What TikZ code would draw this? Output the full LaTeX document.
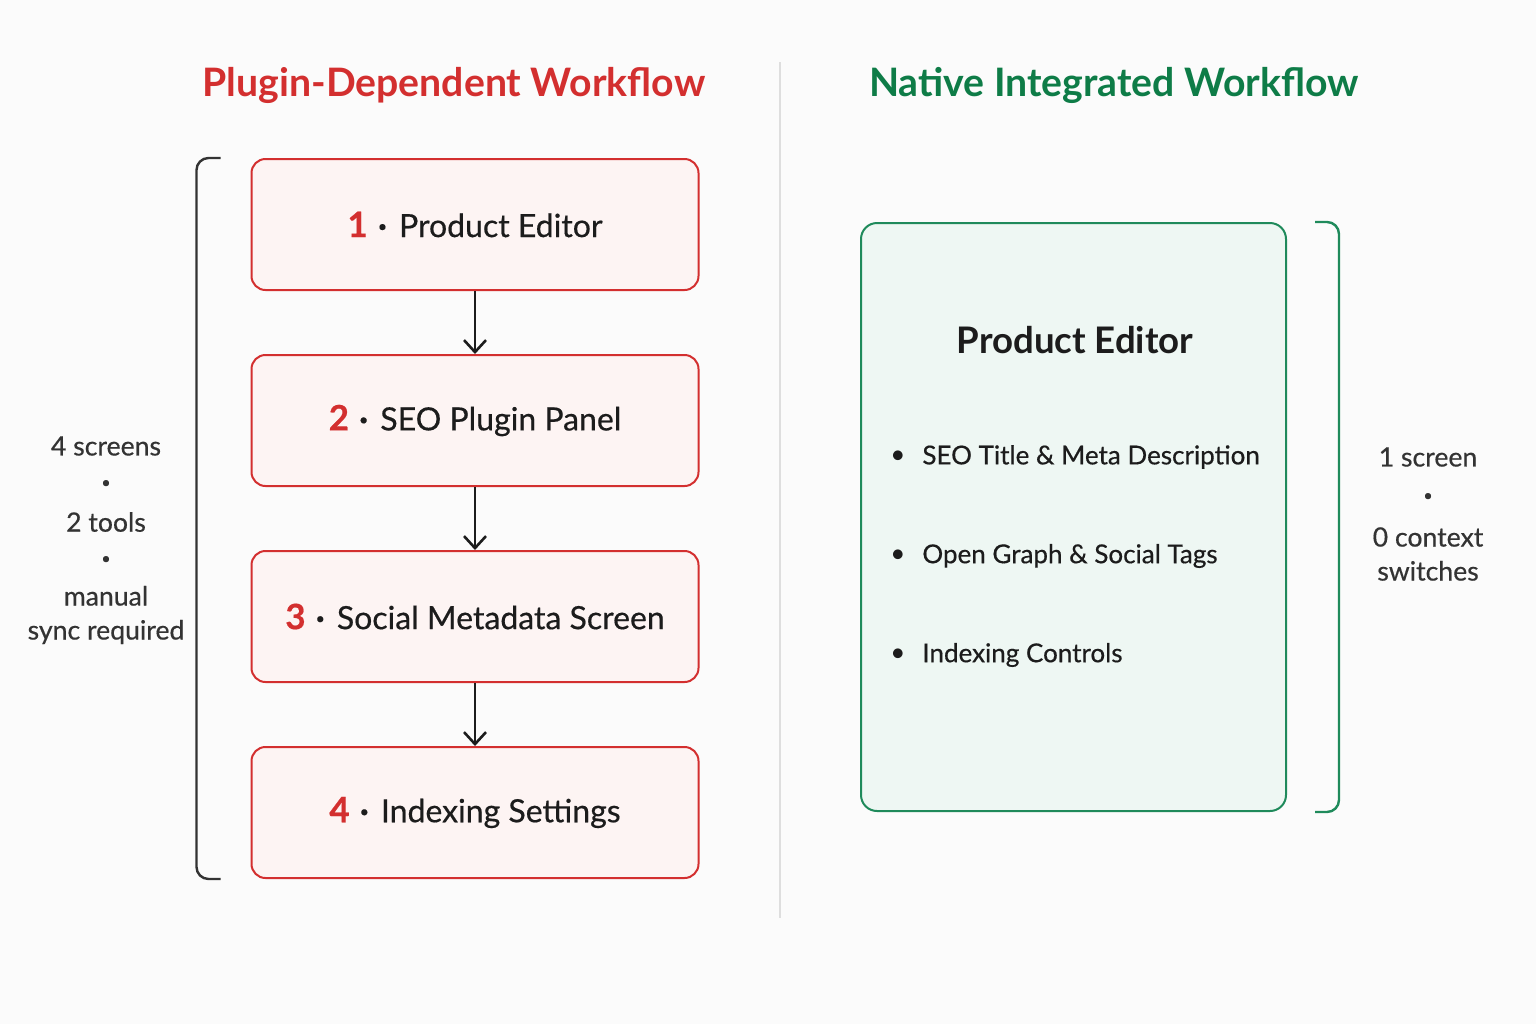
\documentclass[tikz,border=0pt]{standalone}
\usepackage{fontspec}
\setmainfont{Lato}
\newfontfamily\medfont{Lato}[FakeBold=0.5]
\usepackage{xcolor}
\definecolor{plugred}{HTML}{D32F2F}
\definecolor{plugfill}{HTML}{FDF4F3}
\definecolor{natgreen}{HTML}{0E7C47}
\definecolor{natline}{HTML}{1F8A5B}
\definecolor{natfill}{HTML}{EEF7F3}
\definecolor{inkdark}{HTML}{1C1C1C}
\definecolor{inkgray}{HTML}{333333}
\definecolor{rulegray}{HTML}{DEDEDE}
\usepackage{tikz}
\usetikzlibrary{positioning,arrows.meta}

\tikzset{
  stepbox/.style={draw=plugred, fill=plugfill, line width=1pt, rounded corners=7pt,
    minimum width=223.5pt, minimum height=65.5pt, text=inkdark,
    font=\medfont\fontsize{16}{18}\selectfont},
  flow/.style={-{Straight Barb[length=6pt,width=11pt]}, line width=1.3pt, draw=inkdark},
  brk/.style={line width=1.2pt, rounded corners=6pt},
  sidetxt/.style={text=inkgray, align=center, font=\medfont\fontsize{13.3}{17}\selectfont},
  itemtxt/.style={text=inkdark, anchor=west, inner sep=0pt, font=\medfont\fontsize{13}{16}\selectfont},
  heading/.style={font=\bfseries\fontsize{19.6}{24}\selectfont}
}
\newcommand{\smalldot}{{\fontsize{8}{8}\selectfont\textbullet}}
\newcommand{\stepnum}[1]{{\color{plugred}\bfseries\fontsize{17.5}{18}\selectfont #1}\hspace{5pt}\raisebox{2.6pt}{\smalldot}\hspace{6pt}}

\begin{document}
\begin{tikzpicture}[x=0.5pt,y=-0.5pt]
  \fill[white!98.5!black] (0,0) rectangle (1536,1024);
  \useasboundingbox (0,0) rectangle (1536,1024);

  %%% titles and divider
  \node[heading, text=plugred] (ltitle) at (454,85) {Plugin-Dependent Workflow};
  \node[heading, text=natgreen] (rtitle) at (1114,85) {Native Integrated Workflow};
  \draw[rulegray, line width=1pt] (780,62) -- (780,918);

  %%% plugin chain
  \node[stepbox] (b1) at (475,224.5) {\stepnum{1}Product Editor};
  \node[stepbox, below=31.5pt of b1] (b2) {\stepnum{2}SEO Plugin Panel};
  \node[stepbox, below=31.5pt of b2] (b3) {\stepnum{3}Social Metadata Screen};
  \node[stepbox, below=31.5pt of b3] (b4) {\stepnum{4}Indexing Settings};
  \draw[flow] (b1) -- (b2);
  \draw[flow] (b2) -- (b3);
  \draw[flow] (b3) -- (b4);

  \draw[brk, inkgray] ([xshift=-15pt]b1.north west) -- ([xshift=-27pt]b1.north west)
    -- ([xshift=-27pt]b4.south west) -- ([xshift=-15pt]b4.south west);

  \node[sidetxt] (ls1) at (106,446) {4 screens};
  \node[sidetxt] (ld1) at (106,484) {\smalldot};
  \node[sidetxt] (ls2) at (106,522) {2 tools};
  \node[sidetxt] (ld2) at (106,560) {\smalldot};
  \node[sidetxt] (ls3) at (106,615) {manual\\sync required};

  %%% native editor
  \node[draw=natline, fill=natfill, line width=1pt, rounded corners=8pt,
    minimum width=212.5pt, minimum height=294pt] (pe) at (1073.5,517) {};
  \node[text=inkdark, font=\bfseries\fontsize{18.3}{20}\selectfont] (petitle) at (1075,340) {Product Editor};
  \node[itemtxt] (i1) at (922,457) {SEO Title \& Meta Description};
  \node[itemtxt] (i2) at (922,556) {Open Graph \& Social Tags};
  \node[itemtxt] (i3) at (922,655) {Indexing Controls};
  \foreach \i in {i1,i2,i3}
    \node[text=inkdark, font=\fontsize{13}{16}\selectfont] at ([xshift=-12pt]\i.west) {\textbullet};

  \draw[brk, natline] ([xshift=14pt]pe.north east) -- ([xshift=26pt]pe.north east)
    -- ([xshift=26pt]pe.south east) -- ([xshift=14pt]pe.south east);

  \node[sidetxt] (rs1) at (1428,457) {1 screen};
  \node[sidetxt] (rd1) at (1428,497) {\smalldot};
  \node[sidetxt] (rs2) at (1428,554) {0 context\\switches};
\end{tikzpicture}
\end{document}
